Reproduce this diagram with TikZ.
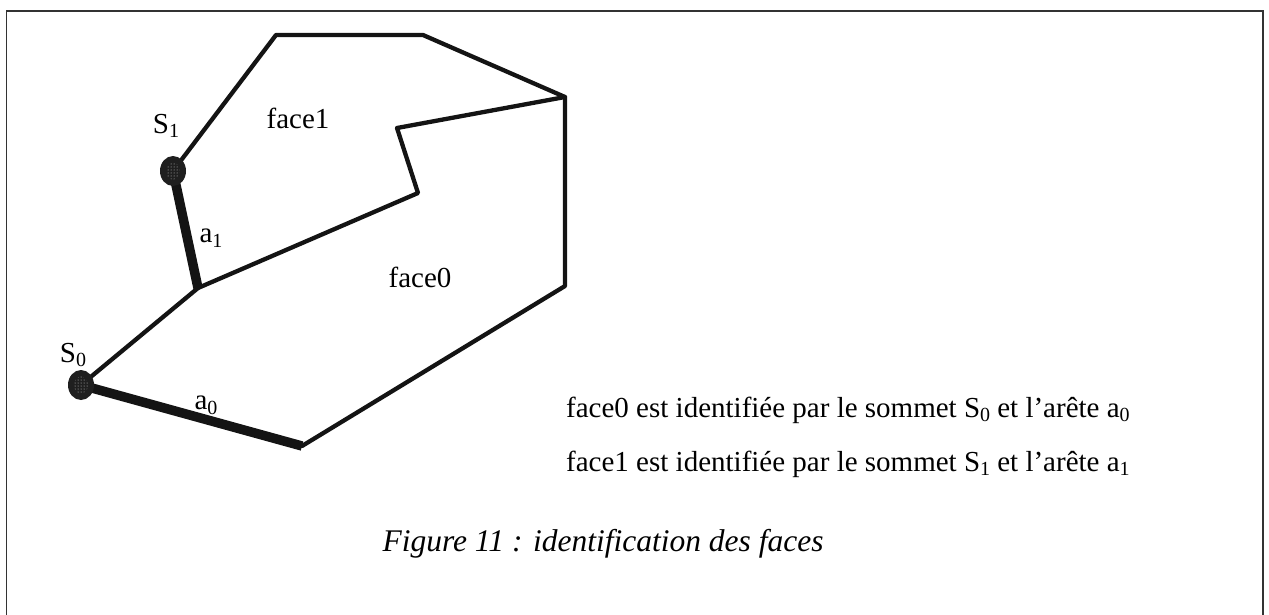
\documentclass[tikz,border=0pt]{standalone}
\usepackage{fontspec}
\setmainfont{Liberation Serif}
\usetikzlibrary{patterns,shapes.geometric}
\newcommand{\mysub}[1]{\raisebox{-0.35ex}{\fontsize{20}{20}\selectfont #1}}
\begin{document}
\begin{tikzpicture}[x=1pt,y=-1pt,
  thin edge/.style={line width=4.3pt, line join=round, line cap=round, draw=black!92},
  thick edge/.style={line width=9.5pt, draw=black!92},
  lbl/.style={font=\fontsize{29}{32}\selectfont, inner sep=0pt},
  txt/.style={font=\fontsize{29}{32}\selectfont, inner sep=0pt, anchor=base west},
  vertex/.style={ellipse, draw=none, minimum width=26pt, minimum height=30pt, fill=black!88}
]
\useasboundingbox (0,0) rectangle (1269,614);
\draw[line width=1.8pt, black!80] (6.5,620) -- (6.5,11) -- (1263,11) -- (1263,620);

% corners
\coordinate (A) at (276,35);
\coordinate (B) at (423,35);
\coordinate (C) at (565,97);
\coordinate (D) at (397,128);
\coordinate (E) at (418,193);
\coordinate (J) at (198,288);
\coordinate (F) at (565,286);
\coordinate (G) at (302,446);
\coordinate (s1) at (173,171);
\coordinate (s0) at (81,385);

\draw[thin edge] (s1) -- (A) -- (B) -- (C) -- (F) -- (G);
\draw[thin edge] (C) -- (D) -- (E) -- (J);
\draw[thin edge] (J) -- (s0);
\draw[thick edge] (s1) -- (J);
\draw[thick edge] (s0) -- (G);

\node[vertex] (S1) at (s1) {};
\node[vertex] (S0) at (s0) {};
\fill[pattern=dots, pattern color=white!80!black] (s1) ellipse (7pt and 8.5pt);
\fill[pattern=dots, pattern color=white!80!black] (s0) ellipse (7pt and 8.5pt);

\node[lbl] (lS1) at (166,126) {S\mysub{1}};
\node[lbl] (lS0) at (73,355) {S\mysub{0}};
\node[lbl] (la1) at (211,238) {a\mysub{1}};
\node[lbl] (la0) at (206,405) {a\mysub{0}};
\node[lbl] (lf1) at (298,118) {face1};
\node[lbl] (lf0) at (420,277) {face0};

\node[txt] (t0) at (566,417) {face0 est identifiée par le sommet S\mysub{0} et l’arête a\mysub{0}};
\node[txt] (t1) at (566,471) {face1 est identifiée par le sommet S\mysub{1} et l’arête a\mysub{1}};
\node[inner sep=0pt, font=\fontsize{31.5}{35}\selectfont\itshape, anchor=base] (cap) at (603,551) {Figure 11 : identification des faces};
\end{tikzpicture}
\end{document}
